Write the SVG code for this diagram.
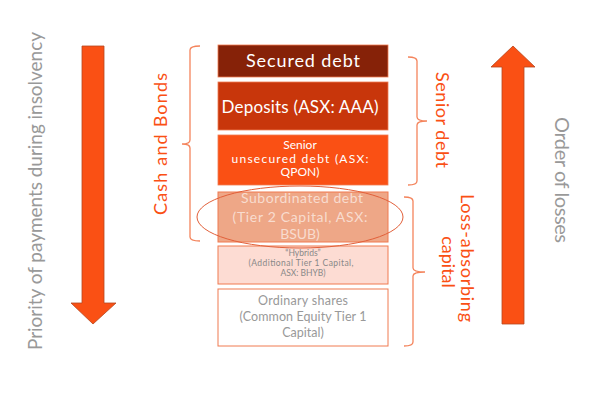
<svg xmlns="http://www.w3.org/2000/svg" width="602" height="400" viewBox="0 0 602 400">
<style>
text{font-family:Lato,"Open Sans","Liberation Sans",sans-serif;text-anchor:middle}
.w{fill:#ffffff}
.o{fill:#FA5014}
.g{fill:#999999}
.br{fill:none;stroke:#F4845C;stroke-width:1.3}
.arr{fill:#FA5014;stroke:#B5461E;stroke-width:0.8}
</style>
<rect width="602" height="400" fill="#ffffff"/>
<g id="arrow-down">
<path class="arr" d="M82,46 H104 V303 H116 L93,324 L71,303 H82 Z"/>
</g>
<g id="arrow-up">
<path class="arr" d="M502,324 V67 H491 L513,46 L535,67 H524 V324 Z"/>
</g>
<g id="label-priority">
<text class="g" font-size="19" transform="translate(42,191) rotate(-90)" textLength="318">Priority of payments during insolvency</text>
</g>
<g id="label-losses">
<text class="g" font-size="20" transform="translate(555,180) rotate(90)" textLength="126">Order of losses</text>
</g>
<g id="secured">
<rect x="218" y="45" width="170" height="32" fill="#862208" stroke="#F07A50" stroke-width="0.8"/>
<text class="w" font-size="18" x="303" y="67" textLength="114">Secured debt</text>
</g>
<g id="deposits">
<rect x="218" y="82" width="170" height="48" fill="#C8360B" stroke="#F07A50" stroke-width="0.8"/>
<text class="w" font-size="17" x="300" y="113" textLength="157">Deposits (ASX: AAA)</text>
</g>
<g id="senior-unsecured">
<rect x="218" y="135" width="170" height="50" fill="#FA5014" stroke="#F07A50" stroke-width="0.8"/>
<text class="w" font-size="12" x="300" y="149">Senior</text>
<text class="w" font-size="12" x="300" y="162.5" textLength="137">unsecured debt (ASX:</text>
<text class="w" font-size="12" x="300" y="176">QPON)</text>
</g>
<g id="subordinated">
<rect x="218" y="192" width="170" height="50" fill="#EEA787" stroke="#F07A50" stroke-width="1"/>
<text font-size="14" x="302" y="203" fill="#F8DCCF" textLength="122">Subordinated debt</text>
<text font-size="14" x="300" y="222" fill="#F8DCCF" textLength="135">(Tier 2 Capital, ASX:</text>
<text font-size="14" x="300" y="239" fill="#F8DCCF">BSUB)</text>
</g>
<g id="hybrids">
<rect x="218" y="246" width="170" height="38" fill="#FDDCD3" stroke="#F07A50" stroke-width="1"/>
<text font-size="8.5" x="303" y="256" fill="#888888">“Hybrids”</text>
<text font-size="8.5" x="301" y="266" fill="#888888" textLength="105">(Additional Tier 1 Capital,</text>
<text font-size="8.5" x="303" y="275.5" fill="#888888">ASX: BHYB)</text>
</g>
<g id="ordinary">
<rect x="218" y="289" width="170" height="57" fill="#ffffff" stroke="#F07A50" stroke-width="1"/>
<text font-size="12.5" x="303" y="305" fill="#999999" textLength="90">Ordinary shares</text>
<text font-size="12.5" x="303" y="321" fill="#999999" textLength="127">(Common Equity Tier 1</text>
<text font-size="12.5" x="303" y="337" fill="#999999">Capital)</text>
</g>
<g id="highlight">
<ellipse cx="300" cy="217" rx="103" ry="31" fill="none" stroke="#E2603A" stroke-width="1"/>
</g>
<g id="connectors">
<path class="br" d="M200,46 Q190,46 190,50 V140 Q190,144 182,144 Q190,144 190,148 V237 Q190,241 200,241"/>
<path class="br" d="M408,57 Q417,57 417,61 V117 Q417,121 427,121 Q417,121 417,125 V181 Q417,185 408,185"/>
<path class="br" d="M404,197 Q413,197 413,201 V268 Q413,272 425,272 Q413,272 413,276 V342 Q413,346 404,346"/>
</g>
<g id="label-cash">
<text class="o" font-size="18" transform="translate(167,144) rotate(-90)" textLength="142">Cash and Bonds</text>
</g>
<g id="label-senior">
<text class="o" font-size="18" transform="translate(436,120) rotate(90)" textLength="96">Senior debt</text>
</g>
<g id="label-loss">
<text class="o" font-size="18" transform="translate(461,258) rotate(90)" textLength="128">Loss-absorbing</text>
<text class="o" font-size="18" transform="translate(442,262) rotate(90)">capital</text>
</g>
</svg>
